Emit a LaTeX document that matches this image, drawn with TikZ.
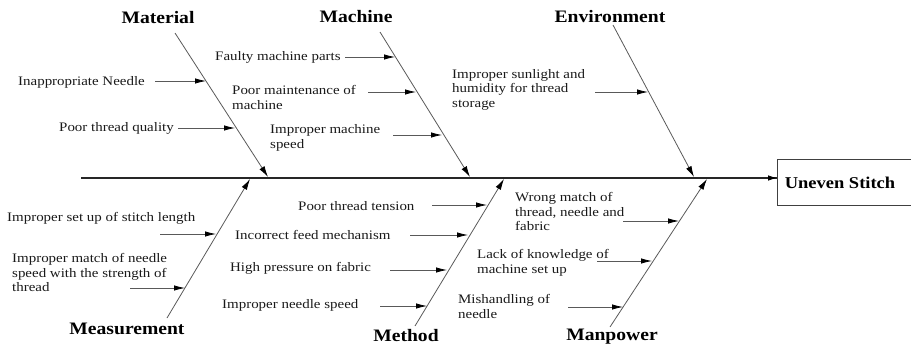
\documentclass[tikz,border=0pt]{standalone}
\usepackage{fontspec}
\setmainfont{Liberation Serif}
\newfontfamily\causefont{Liberation Serif}[FakeStretch=1.15]
\newfontfamily\headfont{Liberation Serif}[FakeStretch=1.12]
\usetikzlibrary{arrows.meta}
\begin{document}
\begin{tikzpicture}[x=1pt,y=-1pt,
  cause/.style={font=\causefont\fontsize{13}{14.5}\selectfont, align=left, anchor=west, inner sep=0pt, text=black!90},
  category/.style={font=\headfont\bfseries\fontsize{17.5}{20}\selectfont, inner sep=0pt},
  bone/.style={draw=black!65, line width=0.8pt, -{Latex[length=11pt,width=6pt,color=black]}},
  subarrow/.style={draw=black!65, line width=0.8pt, -{Latex[length=11pt,width=5.5pt,color=black]}},
  spine/.style={draw=black!85, line width=1.6pt},
  effect/.style={draw=black!75, line width=0.9pt, inner sep=0pt, minimum width=134pt, minimum height=46pt, anchor=north west}]
\useasboundingbox (0,0) rectangle (911,345);

% effect box and spine
\node[effect] (eff) at (777,159) {};
\node[font=\headfont\bfseries\fontsize{16.5}{19}\selectfont, inner sep=0pt] (efftext) at (840,183) {Uneven Stitch};
\coordinate (tail) at (81,178);
\coordinate (effin) at (777,178);
\draw[spine] (tail) -- (effin);
\draw[draw=black!85, line width=0.9pt, -{Latex[length=9pt,width=5.5pt,color=black]}] (700,178) -- (effin);

% main bones
\coordinate (matT) at (175,33);  \coordinate (matH) at (268,177);
\coordinate (macT) at (380,32);  \coordinate (macH) at (470,177);
\coordinate (envT) at (613,25);  \coordinate (envH) at (694,177);
\coordinate (meaT) at (167,318); \coordinate (meaH) at (250,179);
\coordinate (metT) at (415,326); \coordinate (metH) at (504,179);
\coordinate (manT) at (610,327); \coordinate (manH) at (707,179);
\draw[bone] (matT) -- (matH);
\draw[bone] (macT) -- (macH);
\draw[bone] (envT) -- (envH);
\draw[bone] (meaT) -- (meaH);
\draw[bone] (metT) -- (metH);
\draw[bone] (manT) -- (manH);

% category labels
\node[category] (material) at (158,18) {Material};
\node[category] (machine) at (356,17) {Machine};
\node[category] (environment) at (610,17) {Environment};
\node[category] (measurement) at (127,329) {Measurement};
\node[category] (method) at (406,336) {Method};
\node[category] (manpower) at (612,337) {Manpower};

% Material causes
\node[cause] (c1) at (18,82) {Inappropriate Needle};
\node[cause] (c2) at (59,128) {Poor thread quality};
\coordinate (c1a) at (155,81);  \coordinate (c1b) at (206,81);
\coordinate (c2a) at (178,128); \coordinate (c2b) at (235,128);
\draw[subarrow] (c1a) -- (c1b);
\draw[subarrow] (c2a) -- (c2b);

% Machine causes
\node[cause] (c3) at (215,57) {Faulty machine parts};
\node[cause] (c4) at (232,97.5) {Poor maintenance of\\machine};
\node[cause] (c5) at (270,138) {Improper machine\\speed};
\coordinate (c3a) at (345,57);  \coordinate (c3b) at (395,57);
\coordinate (c4a) at (368,92);  \coordinate (c4b) at (416,92);
\coordinate (c5a) at (393,135); \coordinate (c5b) at (442,135);
\draw[subarrow] (c3a) -- (c3b);
\draw[subarrow] (c4a) -- (c4b);
\draw[subarrow] (c5a) -- (c5b);

% Environment causes
\node[cause] (c6) at (452,89.5) {Improper sunlight and\\humidity for thread\\storage};
\coordinate (c6a) at (595,92); \coordinate (c6b) at (648,92);
\draw[subarrow] (c6a) -- (c6b);

% Measurement causes
\node[cause] (c7) at (7,218) {Improper set up of stitch length};
\node[cause] (c8) at (12,272.5) {Improper match of needle\\speed with the strength of\\thread};
\coordinate (c7a) at (160,234); \coordinate (c7b) at (216,234);
\coordinate (c8a) at (130,288); \coordinate (c8b) at (185,288);
\draw[subarrow] (c7a) -- (c7b);
\draw[subarrow] (c8a) -- (c8b);

% Method causes
\node[cause] (c9) at (298,206) {Poor thread tension};
\node[cause] (c10) at (235,235) {Incorrect feed mechanism};
\node[cause] (c11) at (230,268) {High pressure on fabric};
\node[cause] (c12) at (222,305) {Improper needle speed};
\coordinate (c9a) at (432,205);  \coordinate (c9b) at (487,205);
\coordinate (c10a) at (410,235); \coordinate (c10b) at (468,235);
\coordinate (c11a) at (390,270); \coordinate (c11b) at (447,270);
\coordinate (c12a) at (380,306); \coordinate (c12b) at (427,306);
\draw[subarrow] (c9a) -- (c9b);
\draw[subarrow] (c10a) -- (c10b);
\draw[subarrow] (c11a) -- (c11b);
\draw[subarrow] (c12a) -- (c12b);

% Manpower causes
\node[cause] (c13) at (515,211.5) {Wrong match of\\thread, needle and\\fabric};
\node[cause] (c14) at (477,263) {Lack of knowledge of\\machine set up};
\node[cause] (c15) at (458,306.5) {Mishandling of\\needle};
\coordinate (c13a) at (623,221); \coordinate (c13b) at (679,221);
\coordinate (c14a) at (597,261); \coordinate (c14b) at (652,261);
\coordinate (c15a) at (568,307); \coordinate (c15b) at (623,307);
\draw[subarrow] (c13a) -- (c13b);
\draw[subarrow] (c14a) -- (c14b);
\draw[subarrow] (c15a) -- (c15b);
\end{tikzpicture}
\end{document}
